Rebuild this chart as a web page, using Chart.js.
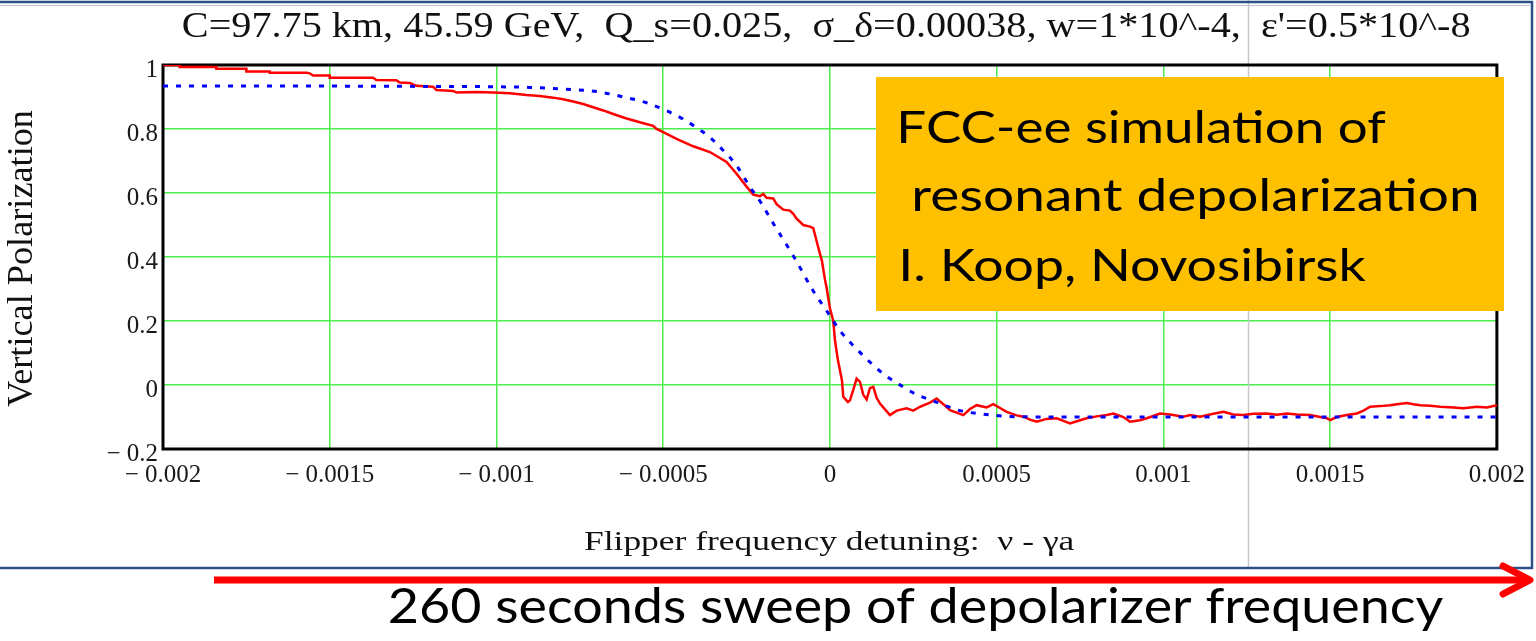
<!DOCTYPE html>
<html>
<head>
<meta charset="utf-8">
<script src="https://cdn.jsdelivr.net/npm/chart.js@4.4.1/dist/chart.umd.min.js"></script>
<style>
html,body{margin:0;padding:0;background:#ffffff;overflow:hidden}
canvas{display:block}
</style>
</head>
<body>
<canvas id="c" width="1536" height="641"></canvas>
<script>
// ---------------- texts ----------------
const titleText = "C=97.75 km, 45.59 GeV,  Q_s=0.025,  \u03C3_\u03B4=0.00038, w=1*10^-4,  \u03B5'=0.5*10^-8";
const xAxisTitle = "Flipper frequency detuning:  \u03BD - \u03B3a";
const yAxisTitle = "Vertical Polarization";
const boxLines = ["FCC-ee simulation of", " resonant depolarization", "I. Koop, Novosibirsk"];
const sweepText = "260 seconds sweep of depolarizer frequency";

// ---------------- ticks ----------------
const xTickValues = [-0.002, -0.0015, -0.001, -0.0005, 0, 0.0005, 0.001, 0.0015, 0.002];
const xTickLabels = ["\u2212 0.002", "\u2212 0.0015", "\u2212 0.001", "\u2212 0.0005", "0", "0.0005", "0.001", "0.0015", "0.002"];
const yTickValues = [-0.2, 0, 0.2, 0.4, 0.6, 0.8, 1];
const yTickLabels = ["\u2212 0.2", "0", "0.2", "0.4", "0.6", "0.8", "1"];

// ---------------- simulation (red) ----------------
const redX = [-0.002, -0.00195, -0.00195, -0.00184, -0.00184, -0.00175, -0.00175, -0.00168, -0.00168, -0.00157,
  -0.00156, -0.00155, -0.0015, -0.0015, -0.00137, -0.00136, -0.0013, -0.00129, -0.00126, -0.00124,
  -0.00119, -0.00118, -0.00113, -0.00112, -0.00106, -0.00101, -0.00096, -0.00091, -0.00087, -0.00083,
  -0.0008, -0.00077, -0.00074, -0.00071, -0.00068, -0.00065, -0.00061, -0.00057, -0.00053, -0.00052,
  -0.0005, -0.00046, -0.00041, -0.00036, -0.00031, -0.00028, -0.00025, -0.00023, -0.00021, -0.0002,
  -0.00019, -0.00017, -0.00016, -0.00014, -0.00012, -0.00011, -0.0001, -0.00008, -0.00006, -0.00005,
  -0.00004, -0.00003, -0.000024, -0.000015, -0.00001, 0, 0.00001, 0.000015, 0.000024, 0.000036,
  0.00004, 0.000054, 0.00006, 0.00007, 0.00008, 0.00009, 0.0001, 0.00011, 0.00012, 0.00013,
  0.00014, 0.00015, 0.00016, 0.00018, 0.0002, 0.00023, 0.00025, 0.00027, 0.0003, 0.00032,
  0.00034, 0.00036, 0.0004, 0.00042, 0.00044, 0.00047, 0.00049, 0.00051, 0.00053, 0.00056,
  0.00058, 0.0006, 0.00062, 0.00065, 0.00068, 0.0007, 0.00072, 0.00075, 0.00077, 0.0008,
  0.00083, 0.00085, 0.00088, 0.0009, 0.00093, 0.00095, 0.00099, 0.00102, 0.00106, 0.00108,
  0.00111, 0.00115, 0.00118, 0.00121, 0.00124, 0.00127, 0.00131, 0.00134, 0.00137, 0.0014,
  0.00144, 0.00147, 0.00149, 0.0015, 0.00152, 0.00155, 0.00158, 0.0016, 0.00162, 0.00165,
  0.00168, 0.0017, 0.00173, 0.00175, 0.00177, 0.0018, 0.00183, 0.00187, 0.0019, 0.00192,
  0.00194, 0.00197, 0.002];
const redY = [1.0, 1.0, 0.994, 0.994, 0.988, 0.988, 0.98, 0.98, 0.976, 0.976,
  0.974, 0.967, 0.967, 0.96, 0.96, 0.953, 0.952, 0.945, 0.944, 0.935,
  0.932, 0.922, 0.919, 0.914, 0.916, 0.914, 0.912, 0.906, 0.903, 0.898,
  0.893, 0.886, 0.878, 0.868, 0.858, 0.847, 0.833, 0.821, 0.81, 0.80,
  0.79, 0.769, 0.746, 0.728, 0.697, 0.66, 0.62, 0.595, 0.59, 0.597,
  0.585, 0.583, 0.565, 0.548, 0.545, 0.535, 0.52, 0.5, 0.495, 0.49,
  0.45, 0.41, 0.388, 0.33, 0.304, 0.24, 0.2, 0.14, 0.077, 0.015,
  -0.037, -0.053, -0.048, -0.015, 0.02, 0.01, -0.03, -0.045, -0.01, -0.006,
  -0.04, -0.058, -0.07, -0.094, -0.08, -0.073, -0.08, -0.068, -0.055, -0.042,
  -0.06, -0.079, -0.094, -0.075, -0.063, -0.07, -0.06, -0.072, -0.084, -0.095,
  -0.099, -0.108, -0.115, -0.106, -0.104, -0.112, -0.12, -0.11, -0.104, -0.098,
  -0.094, -0.089, -0.1, -0.115, -0.11, -0.104, -0.089, -0.092, -0.099, -0.094,
  -0.099, -0.09, -0.084, -0.092, -0.094, -0.09, -0.089, -0.093, -0.089, -0.092,
  -0.094, -0.1, -0.104, -0.11, -0.1, -0.094, -0.089, -0.08, -0.068, -0.066,
  -0.063, -0.06, -0.056, -0.06, -0.063, -0.065, -0.068, -0.07, -0.073, -0.07,
  -0.068, -0.07, -0.063];

// ---------------- theory (blue dotted) ----------------
const blueX = [-0.002, -0.0015, -0.0012, -0.001, -0.0009, -0.0008, -0.0007, -0.00061, -0.00055, -0.00049,
  -0.00044, -0.00039, -0.00036, -0.00032, -0.00028, -0.00024, -0.00021, -0.00017, -0.00011, -0.00005,
  -0.00001, 0.00003, 0.00009, 0.00016, 0.00022, 0.00026, 0.00031, 0.00036, 0.00039, 0.00045,
  0.00056, 0.0007, 0.002];
const blueY = [0.934, 0.934, 0.933, 0.932, 0.93, 0.925, 0.917, 0.898, 0.882, 0.857,
  0.831, 0.797, 0.774, 0.733, 0.686, 0.619, 0.575, 0.505, 0.404, 0.294,
  0.232, 0.17, 0.102, 0.035, -0.006, -0.03, -0.05, -0.07, -0.08, -0.09,
  -0.099, -0.1, -0.1];

const redData = redX.map((x, i) => ({x: x, y: redY[i]}));
const blueData = blueX.map((x, i) => ({x: x, y: blueY[i]}));

const SERIF = "'Liberation Serif', 'Times New Roman', serif";
const SANS = "Lato, 'Open Sans', sans-serif";

// draw text stretched horizontally so that its ink spans [left,right]
function fitText(ctx, text, font, left, right, baseline) {
  ctx.font = font;
  ctx.textAlign = 'left';
  ctx.textBaseline = 'alphabetic';
  const m = ctx.measureText(text);
  const ink = m.actualBoundingBoxLeft + m.actualBoundingBoxRight;
  const sx = (right - left) / ink;
  ctx.save();
  ctx.translate(left + m.actualBoundingBoxLeft * sx, baseline);
  ctx.scale(sx, 1);
  ctx.fillText(text, 0, 0);
  ctx.restore();
}

const decor = {
  id: 'decor',
  beforeDraw(chart) {
    const ctx = chart.ctx;
    ctx.save();
    ctx.fillStyle = '#ffffff';
    ctx.fillRect(0, 0, chart.width, chart.height);
    ctx.restore();
  },
  beforeDatasetsDraw(chart) {
    const ctx = chart.ctx, a = chart.chartArea;
    ctx.save();
    // slide guide line
    ctx.strokeStyle = '#c8c8c8';
    ctx.lineWidth = 1.5;
    ctx.beginPath(); ctx.moveTo(1248.5, 0); ctx.lineTo(1248.5, 568); ctx.stroke();
    // plot frame
    ctx.strokeStyle = '#000000';
    ctx.lineWidth = 3;
    ctx.strokeRect(a.left, a.top, a.right - a.left, a.bottom - a.top);
    ctx.restore();
  },
  afterDraw(chart) {
    const ctx = chart.ctx;
    ctx.save();
    ctx.fillStyle = '#111111';
    // title
    fitText(ctx, titleText, '35px ' + SERIF, 183, 1470, 37);
    // x axis title
    fitText(ctx, xAxisTitle, '28px ' + SERIF, 584, 1075, 550);
    // y axis title (rotated)
    ctx.save();
    ctx.translate(32, 407);
    ctx.rotate(-Math.PI / 2);
    fitText(ctx, yAxisTitle, '36px ' + SERIF, 0, 297, 0);
    ctx.restore();

    // orange annotation box
    ctx.fillStyle = '#FFC000';
    ctx.fillRect(876, 77, 628, 234);
    ctx.fillStyle = '#000000';
    fitText(ctx, boxLines[0].trim(), '45px ' + SANS, 901, 1386, 143);
    fitText(ctx, boxLines[1].trim(), '45px ' + SANS, 915, 1477, 211);
    fitText(ctx, boxLines[2].trim(), '45px ' + SANS, 903, 1366, 281);

    // outer slide frame
    ctx.strokeStyle = '#2c4f86';
    ctx.lineWidth = 2.5;
    ctx.beginPath();
    ctx.moveTo(0, 2); ctx.lineTo(1532, 2); ctx.lineTo(1532, 568); ctx.lineTo(0, 568);
    ctx.stroke();
    ctx.strokeStyle = '#b7c6dd';
    ctx.lineWidth = 1;
    ctx.beginPath(); ctx.moveTo(0, 5.5); ctx.lineTo(1530, 5.5); ctx.stroke();

    // red sweep arrow
    ctx.strokeStyle = '#ff0000';
    ctx.lineWidth = 7;
    ctx.lineCap = 'butt';
    ctx.beginPath(); ctx.moveTo(214, 580); ctx.lineTo(1528, 580); ctx.stroke();
    ctx.lineCap = 'round';
    ctx.lineJoin = 'round';
    ctx.beginPath(); ctx.moveTo(1503, 566); ctx.lineTo(1530, 580); ctx.lineTo(1503, 594); ctx.stroke();

    // sweep caption
    ctx.fillStyle = '#000000';
    fitText(ctx, sweepText, '49px ' + SANS, 390, 1443, 623);
    ctx.restore();
  }
};

new Chart(document.getElementById('c').getContext('2d'), {
  type: 'line',
  data: {
    datasets: [
      {
        label: 'theory',
        data: blueData,
        borderColor: '#0000ff',
        borderWidth: 3,
        borderDash: [5, 8],
        pointRadius: 0,
        cubicInterpolationMode: 'monotone',
        fill: false,
        order: 0
      },
      {
        label: 'simulation',
        data: redData,
        borderColor: '#ff0000',
        borderWidth: 2.5,
        pointRadius: 0,
        tension: 0,
        fill: false,
        order: 1
      }
    ]
  },
  options: {
    responsive: false,
    animation: false,
    devicePixelRatio: 1,
    events: [],
    layout: { padding: { left: 0, right: 38, top: 65, bottom: 0 } },
    plugins: {
      legend: { display: false },
      tooltip: { enabled: false },
      title: { display: false }
    },
    scales: {
      x: {
        type: 'linear',
        min: -0.002,
        max: 0.002,
        afterBuildTicks: s => { s.ticks = xTickValues.map(v => ({ value: v })); },
        afterFit: s => { s.height = 192; },
        grid: { color: '#4cee4c', lineWidth: 1.5, drawTicks: false },
        border: { display: false },
        ticks: {
          callback: (v, i) => xTickLabels[i],
          font: { family: SERIF, size: 25 },
          color: '#1a1a1a',
          padding: 11,
          maxRotation: 0,
          autoSkip: false
        }
      },
      y: {
        type: 'linear',
        min: -0.2,
        max: 1,
        afterBuildTicks: s => { s.ticks = yTickValues.map(v => ({ value: v })); },
        afterFit: s => { s.width = 163; },
        grid: { color: '#4cee4c', lineWidth: 1.5, drawTicks: false },
        border: { display: false },
        ticks: {
          callback: (v, i) => yTickLabels[i],
          font: { family: SERIF, size: 25 },
          color: '#1a1a1a',
          padding: 5,
          labelOffset: 5,
          autoSkip: false
        }
      }
    }
  },
  plugins: [decor]
});
</script>
</body>
</html>
